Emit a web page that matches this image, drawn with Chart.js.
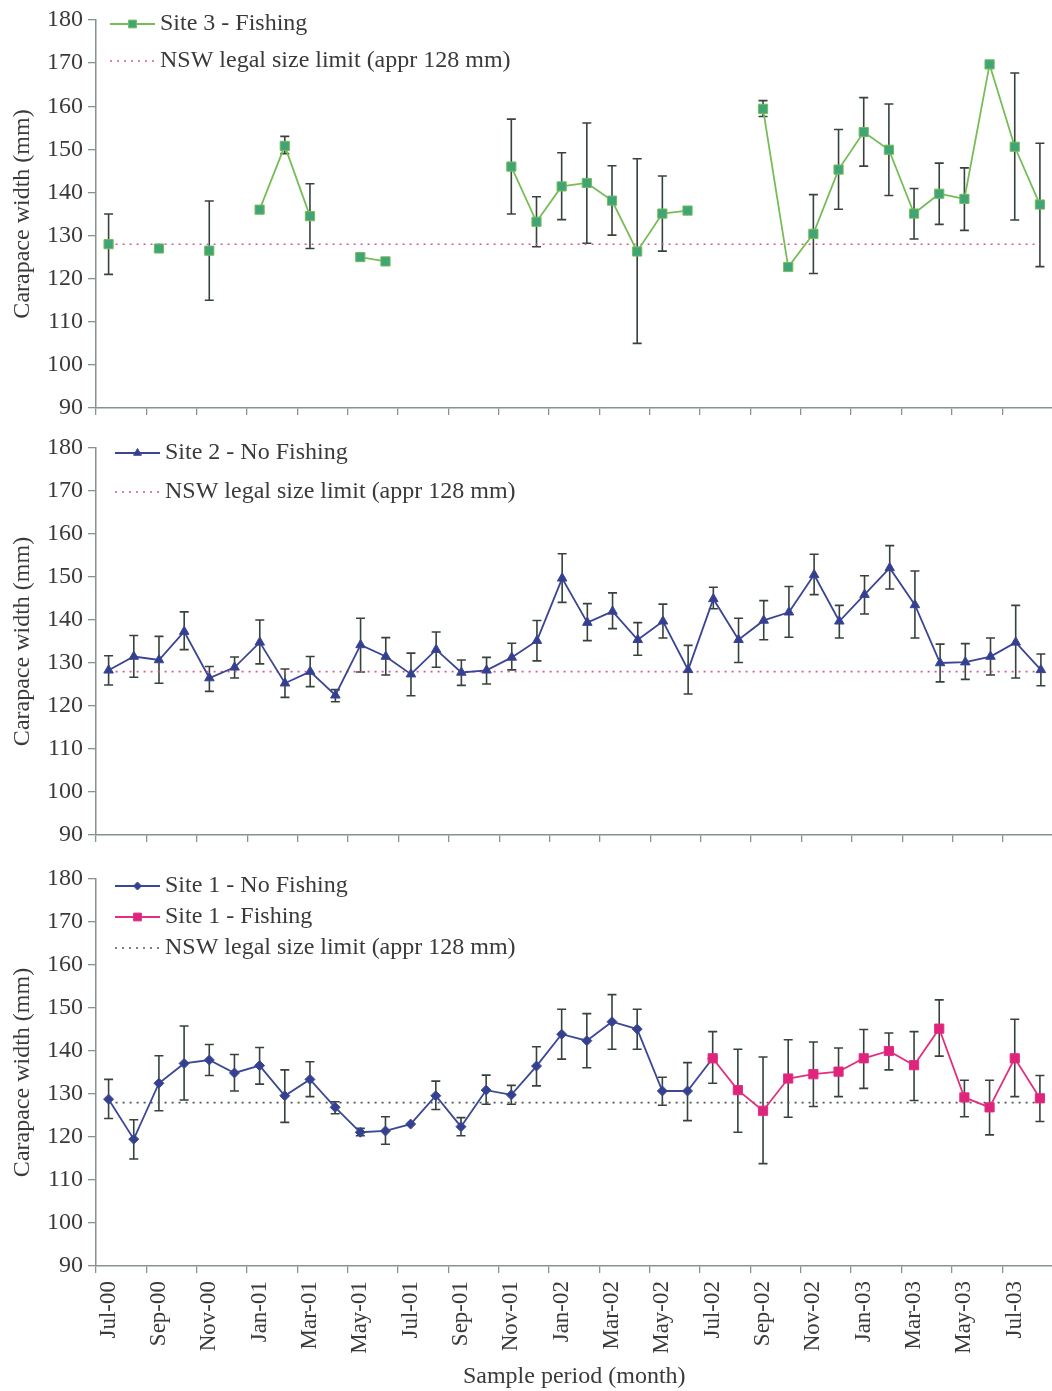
<!DOCTYPE html>
<html>
<head>
<meta charset="utf-8">
<script src="https://cdn.jsdelivr.net/npm/chart.js@4.4.0/dist/chart.umd.min.js"></script>
<style>
  html, body { margin: 0; padding: 0; background: #fff; overflow: hidden; }
  .panel { position: absolute; left: 0; width: 1060px; }
</style>
</head>
<body>
<div class="panel" style="top:0;height:420px"><canvas id="site3"></canvas></div>
<div class="panel" style="top:430px;height:420px"><canvas id="site2"></canvas></div>
<div class="panel" style="top:860px;height:531px"><canvas id="site1"></canvas></div>
<script>
// months sampled, Jul-00 .. Aug-03
const months = ['Jul-00','Aug-00','Sep-00','Oct-00','Nov-00','Dec-00','Jan-01','Feb-01','Mar-01','Apr-01',
  'May-01','Jun-01','Jul-01','Aug-01','Sep-01','Oct-01','Nov-01','Dec-01','Jan-02','Feb-02',
  'Mar-02','Apr-02','May-02','Jun-02','Jul-02','Aug-02','Sep-02','Oct-02','Nov-02','Dec-02',
  'Jan-03','Feb-03','Mar-03','Apr-03','May-03','Jun-03','Jul-03','Aug-03'];

const LEGAL_LIMIT = 128;

// Site 3 - Fishing
const site3Mean = [128,null,127,null,126.5,null,136,150.8,134.5,null,125,124,null,null,null,null,146,133.2,141.4,142.2,
  138.1,126.3,135.1,135.8,null,null,159.4,122.7,130.4,145.3,154.0,149.9,135.1,139.7,138.5,169.7,150.6,137.2];
const site3Low = [121,null,null,null,115,null,null,149,127,null,null,null,null,null,null,null,135,127.4,133.7,128.2,
  130.1,105,126.4,null,null,null,157.6,null,121.2,136.1,146.1,139.3,129.2,132.6,131.2,null,133.6,122.8];
const site3High = [135,null,null,null,138,null,null,153,142,null,null,null,null,null,null,null,157,139,149.2,156.1,
  146.2,147.8,143.8,null,null,null,161.3,null,139.5,154.6,162,160.5,140.9,146.8,145.7,null,167.7,151.4];

// Site 2 - No Fishing
const site2Mean = [128.3,131.5,130.7,137.3,126.5,129.0,134.8,125.3,128.0,122.5,134.2,131.5,127.4,133.1,127.8,128.3,131.3,135.2,149.7,139.4,
  142.0,135.4,139.7,128.4,144.9,135.4,139.9,141.8,150.5,139.7,145.9,152.1,143.5,130.0,130.2,131.5,134.8,128.4];
const site2Low = [124.9,126.7,125.3,133.1,123.4,126.5,129.8,122.0,124.5,121.0,127.9,127.2,122.4,129.0,124.8,125.1,128.4,130.5,144.1,135.2,
  138.0,131.8,135.8,122.8,142.6,130.1,135.4,136.0,145.9,135.8,141.4,147.2,135.8,125.6,126.2,127.2,126.5,124.7];
const site2High = [131.7,136.4,136.2,141.9,129.2,131.4,140.0,128.6,131.5,123.8,140.4,135.9,132.3,137.2,130.7,131.3,134.6,139.9,155.4,143.8,
  146.3,139.4,143.7,134.1,147.6,140.4,144.5,147.8,155.3,143.4,150.3,157.3,151.4,134.4,134.5,135.8,143.4,132.1];

// Site 1 - No Fishing (to Jul-02)
const site1NoMean = [128.8,119.5,132.5,137.1,137.9,134.9,136.6,129.6,133.4,126.9,121.1,121.4,123.0,129.6,122.4,130.9,129.8,136.5,143.9,142.4,
  146.8,145.1,130.7,130.7,138.3,null,null,null,null,null,null,null,null,null,null,null,null,null];
const site1NoLow = [124.3,114.9,126.1,128.6,134.3,130.7,132.3,123.4,129.4,125.4,120.3,118.3,null,126.4,120.3,127.6,127.6,131.9,138.1,136.1,
  140.4,140.4,127.4,123.8,null,null,null,null,null,null,null,null,null,null,null,null,null,null];
const site1NoHigh = [133.4,124.0,138.9,145.8,141.5,139.2,140.8,135.6,137.5,128.2,122.0,124.7,null,133.0,124.5,134.4,132.0,141.0,149.7,148.7,
  153.1,149.7,133.9,137.3,null,null,null,null,null,null,null,null,null,null,null,null,null,null];

// Site 1 - Fishing (from Jul-02)
const site1FishMean = [null,null,null,null,null,null,null,null,null,null,null,null,null,null,null,null,null,null,null,null,
  null,null,null,null,138.3,130.9,126.1,133.6,134.6,135.2,138.3,140.0,136.7,145.2,129.2,126.9,138.3,129.0];
const site1FishLow = [null,null,null,null,null,null,null,null,null,null,null,null,null,null,null,null,null,null,null,null,
  null,null,null,null,132.5,121.1,113.8,124.6,127.1,129.4,131.3,135.6,128.5,138.8,124.7,120.5,129.4,123.6];
const site1FishHigh = [null,null,null,null,null,null,null,null,null,null,null,null,null,null,null,null,null,null,null,null,
  null,null,null,null,144.5,140.4,138.6,142.6,142.1,140.7,145.0,144.2,144.5,151.9,133.2,133.2,147.4,134.3];

const SERIF = "'Liberation Serif', 'Times New Roman', serif";
const TEXT = '#3a3a3a';
const AXIS = '#86948c';
const ERR = '#36423b';

// vertical error bars with caps, drawn under the markers
const errorBars = {
  id: 'errorBars',
  beforeDatasetsDraw(chart) {
    const ctx = chart.ctx;
    const yScale = chart.scales.y;
    chart.data.datasets.forEach((ds, di) => {
      if (!ds.errLow) return;
      const meta = chart.getDatasetMeta(di);
      ctx.save();
      ctx.strokeStyle = ERR;
      ctx.lineWidth = 1.6;
      ds.errLow.forEach((lo, i) => {
        const hi = ds.errHigh[i];
        if (lo == null || hi == null) return;
        const x = meta.data[i].x;
        const y0 = yScale.getPixelForValue(lo);
        const y1 = yScale.getPixelForValue(hi);
        ctx.beginPath();
        ctx.moveTo(x, y0); ctx.lineTo(x, y1);
        ctx.moveTo(x - 4.5, y0); ctx.lineTo(x + 4.5, y0);
        ctx.moveTo(x - 4.5, y1); ctx.lineTo(x + 4.5, y1);
        ctx.stroke();
      });
      ctx.restore();
    });
  }
};

// legend inside the plot, line sample with marker like Excel
const boxLegend = {
  id: 'boxLegend',
  afterDraw(chart, args, opts) {
    const ctx = chart.ctx;
    ctx.save();
    chart.data.datasets.forEach((ds, i) => {
      const y = opts.top + i * opts.gap;
      const x0 = opts.left, x1 = opts.left + 45;
      ctx.strokeStyle = ds.borderColor;
      ctx.lineWidth = ds.borderWidth;
      ctx.setLineDash(ds.borderDash || []);
      ctx.beginPath();
      ctx.moveTo(x0, y); ctx.lineTo(x1, y);
      ctx.stroke();
      ctx.setLineDash([]);
      if (ds.pointRadius > 0) {
        ctx.fillStyle = ds.pointBackgroundColor;
        ctx.strokeStyle = ds.pointBorderColor;
        ctx.lineWidth = 1;
        Chart.helpers.drawPoint(ctx, { pointStyle: ds.pointStyle, radius: ds.pointRadius - 1, rotation: 0, borderWidth: 1 }, (x0 + x1) / 2, y);
      }
      ctx.fillStyle = TEXT;
      ctx.font = '24px ' + SERIF;
      ctx.textBaseline = 'middle';
      ctx.textAlign = 'left';
      ctx.fillText(ds.label, x1 + 5, y);
    });
    ctx.restore();
  }
};

function legalLine(color) {
  return {
    label: 'NSW legal size limit (appr 128 mm)',
    data: months.map(() => LEGAL_LIMIT),
    borderColor: color,
    borderWidth: 1.6,
    borderDash: [2, 5],
    pointRadius: 0,
    order: 5
  };
}

function seriesSet(label, mean, lo, hi, color, fill, style, radius, order) {
  return {
    label: label,
    data: mean,
    errLow: lo,
    errHigh: hi,
    borderColor: color,
    borderWidth: 1.8,
    pointStyle: style,
    pointRadius: radius,
    pointBackgroundColor: fill,
    pointBorderColor: color,
    pointBorderWidth: 1,
    spanGaps: false,
    order: order
  };
}

function makeChart(id, datasets, cfg) {
  return new Chart(document.getElementById(id), {
    type: 'line',
    data: { labels: months, datasets: datasets },
    plugins: [errorBars, boxLegend],
    options: {
      responsive: true,
      maintainAspectRatio: false,
      animation: false,
      layout: { padding: { top: cfg.top, left: 0, right: 0, bottom: 0 } },
      plugins: {
        legend: { display: false },
        tooltip: { enabled: false },
        boxLegend: cfg.legend
      },
      scales: {
        x: {
          type: 'category',
          offset: true,
          afterFit: (s) => { s.height = cfg.xHeight; s.paddingLeft = 0; s.paddingRight = 0; },
          border: { display: true, color: AXIS, width: 1.5 },
          grid: {
            offset: true,
            drawOnChartArea: false,
            drawTicks: true,
            tickLength: 7,
            color: (c) => (c.index % 2 === 0 ? AXIS : 'rgba(0,0,0,0)'),
            lineWidth: 1.3
          },
          ticks: {
            display: cfg.showX,
            autoSkip: false,
            maxRotation: 90,
            minRotation: 90,
            padding: 8,
            color: TEXT,
            font: { family: SERIF, size: 23 },
            callback: (v, i) => (i % 2 === 0 ? months[i] : '')
          },
          title: {
            display: cfg.showX,
            text: 'Sample period (month)',
            color: TEXT,
            font: { family: SERIF, size: 24 },
            padding: { top: 0, bottom: 0 }
          }
        },
        y: {
          min: 90,
          max: 180,
          afterFit: (s) => { s.width = 96; s.paddingTop = 0; s.paddingBottom = 0; },
          border: { display: true, color: AXIS, width: 1.5 },
          grid: { drawOnChartArea: false, tickLength: 8, color: AXIS, lineWidth: 1.3 },
          ticks: { stepSize: 10, padding: 5, color: TEXT, font: { family: SERIF, size: 24 } },
          title: {
            display: true,
            text: 'Carapace width (mm)',
            color: TEXT,
            font: { family: SERIF, size: 24 },
            padding: { top: 8, bottom: 0 }
          }
        }
      }
    }
  });
}

makeChart('site3', [
  seriesSet('Site 3 - Fishing', site3Mean, site3Low, site3High, '#76bd58', '#3fa577', 'rect', 6.5, 1),
  legalLine('#d6579b')
], { top: 20, xHeight: 12, showX: false, legend: { left: 110, top: 24, gap: 37 } });

makeChart('site2', [
  seriesSet('Site 2 - No Fishing', site2Mean, site2Low, site2High, '#3b4592', '#333f90', 'triangle', 5.5, 1),
  legalLine('#d6579b')
], { top: 18, xHeight: 15, showX: false, legend: { left: 115, top: 23, gap: 39 } });

makeChart('site1', [
  seriesSet('Site 1 - No Fishing', site1NoMean, site1NoLow, site1NoHigh, '#3c4896', '#34418f', 'rectRot', 5, 2),
  seriesSet('Site 1 - Fishing', site1FishMean, site1FishLow, site1FishHigh, '#e0307f', '#e0237c', 'rect', 6.5, 1),
  legalLine('#4b5a52')
], { top: 19, xHeight: 125, showX: true, legend: { left: 115, top: 26, gap: 31 } });
</script>
</body>
</html>
